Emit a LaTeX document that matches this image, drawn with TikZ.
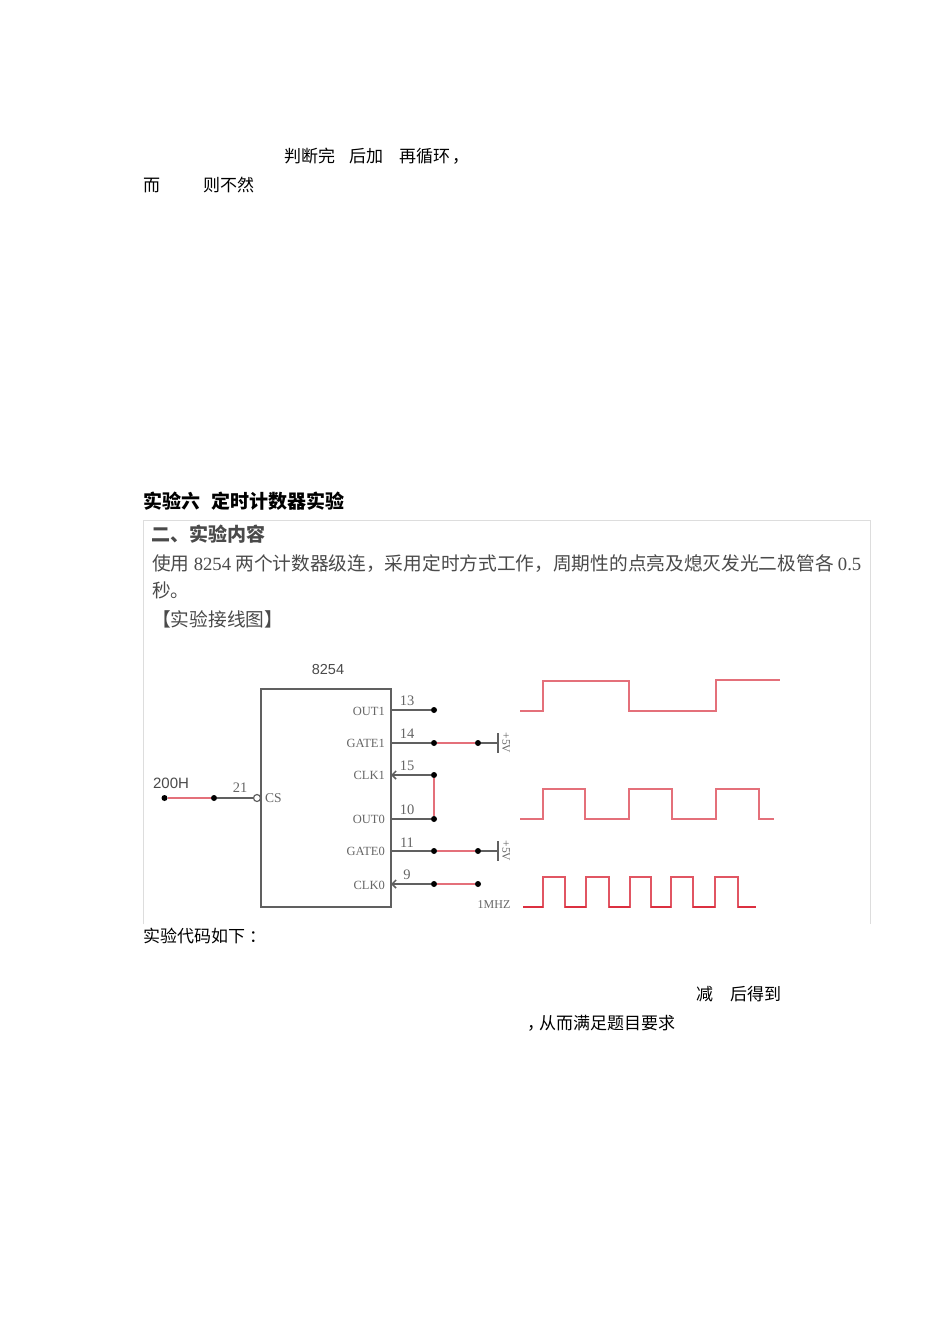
\documentclass[tikz,border=0pt]{standalone}
\usepackage{fontspec}
\setmainfont{Noto Sans CJK SC}
\newfontfamily\ser{Liberation Serif}
\newfontfamily\san{Liberation Sans}
\usetikzlibrary{arrows.meta}
\definecolor{wirec}{HTML}{606060}
\definecolor{redw}{HTML}{E4707A}
\definecolor{redd}{HTML}{DC3040}
\definecolor{inkc}{HTML}{4A4A4A}
\definecolor{framec}{HTML}{DDDDDD}
\definecolor{labc}{HTML}{666666}
\newcommand{\fs}[1]{\fontsize{#1}{#1}\selectfont}
\tikzset{
  txt/.style={inner sep=0pt,anchor=west,text=black,font=\fs{17}},
  head/.style={inner sep=0pt,anchor=west,text=black,font=\fs{19}\bfseries},
  inset/.style={inner sep=0pt,anchor=west,text=inkc,font=\fs{18.7}},
  wire/.style={draw=wirec,line width=1.5pt},
  redwire/.style={draw=redw,line width=1.5pt},
  wave/.style={draw=redw,line width=1.3pt},
  dotn/.style={circle,fill=black,inner sep=0pt,minimum size=6pt},
  pinname/.style={inner sep=0pt,anchor=east,text=labc,font=\ser\fs{12.5}},
  pinnum/.style={inner sep=0pt,text=labc,font=\ser\fs{14.5}},
  clk/.style={-{Straight Barb[length=4pt,width=8pt]}},
  chip/.style={draw=wirec,line width=2pt,minimum width=130pt,minimum height=218pt,inner sep=0pt},
}
\begin{document}
\begin{tikzpicture}[x=1pt,y=-1pt]
\useasboundingbox (0,0) rectangle (950,1344);
\fill[white] (0,0) rectangle (950,1344);
% page text
\node[txt] (t1) at (284,156) {判断完};
\node[txt] (t2) at (349,156) {后加};
\node[txt] (t3) at (399,156) {再循环\hspace{2pt}，};
\node[txt] (t4) at (143,185) {而};
\node[txt] (t5) at (203,185) {则不然};
\node[head] (h1) at (143,501) {实验六};
\node[head] (h2) at (211,501) {定时计数器实验};
\node[txt] (t6) at (143,936) {实验代码如下\hspace{4pt}：};
\node[txt] (t7) at (696,994) {减};
\node[txt] (t8) at (730,994) {后得到};
\node[txt] (t9) at (527,1023) {，\hspace{-5pt}从而满足题目要求};
% screenshot frame
\draw[framec,line width=0.8pt] (143.5,924) -- (143.5,520.5) -- (870.5,520.5) -- (870.5,924);
\node[inset,font=\fs{19}\bfseries] (s1) at (151,534) {二、实验内容};
\node[inset] (s2) at (152,564) {使用 {\ser 8254} 两个计数器级连，采用定时方式工作，周期性的点亮及熄灭发光二极管各 {\ser 0.5}};
\node[inset] (s3) at (152,590) {秒。};
\node[inset] (s4) at (152,619) {【实验接线图】};
% chip
\node[chip] (u) at (326,797.5) {};
\node[inner sep=0pt,text=inkc,font=\san\fs{14.5}] (name) at (328,669) {8254};
% pin points on chip edge
\coordinate (p13) at (391,710);
\coordinate (p14) at (391,743);
\coordinate (p15) at (391,775);
\coordinate (p10) at (391,819);
\coordinate (p11) at (391,851);
\coordinate (p9) at (391,884);
% dots
\node[dotn] (d13) at (434,710) {};
\node[dotn] (d14) at (434,743) {};
\node[dotn] (e14) at (478,743) {};
\node[dotn] (d15) at (434,775) {};
\node[dotn] (d10) at (434,819) {};
\node[dotn] (d11) at (434,851) {};
\node[dotn] (e11) at (478,851) {};
\node[dotn] (d9) at (434,884) {};
\node[dotn] (e9) at (478,884) {};
\node[dotn] (a0) at (164.5,798) {};
\node[dotn] (a1) at (214,798) {};
\node[circle,draw=wirec,fill=white,line width=1.2pt,inner sep=0pt,minimum size=7pt] (inv) at (257,798) {};
% supply bars
\coordinate (b1) at (498,743);
\coordinate (b1t) at (498,733);
\coordinate (b1b) at (498,753);
\coordinate (b2) at (498,851);
\coordinate (b2t) at (498,841);
\coordinate (b2b) at (498,861);
% connectors
\draw[wire] (p13) -- (d13);
\draw[wire] (p14) -- (d14);
\draw[redwire] (d14) -- (e14);
\draw[wire] (e14) -- (b1);
\draw[wire] (b1t) -- (b1b);
\draw[wire,clk] (d15) -- (p15);
\draw[wire] (p10) -- (d10);
\draw[redwire] (d15) -- (d10);
\draw[wire] (p11) -- (d11);
\draw[redwire] (d11) -- (e11);
\draw[wire] (e11) -- (b2);
\draw[wire] (b2t) -- (b2b);
\draw[wire,clk] (d9) -- (p9);
\draw[redwire] (d9) -- (e9);
\draw[redwire] (a0) -- (a1);
\draw[wire] (a1) -- (inv);
% pin names
\node[pinname] (n13) at (385,711) {OUT1};
\node[pinname] (n14) at (385,743) {GATE1};
\node[pinname] (n15) at (385,775) {CLK1};
\node[pinname] (n10) at (385,819) {OUT0};
\node[pinname] (n11) at (385,851) {GATE0};
\node[pinname] (n9) at (385,885) {CLK0};
\node[pinname,anchor=west,font=\ser\fs{13.5}] (ncs) at (265,798) {CS};
% pin numbers
\node[pinnum] (m13) at (407,701) {13};
\node[pinnum] (m14) at (407,734) {14};
\node[pinnum] (m15) at (407,766) {15};
\node[pinnum] (m10) at (407,810) {10};
\node[pinnum] (m11) at (407,843) {11};
\node[pinnum] (m9) at (407,875) {9};
\node[pinnum] (m21) at (240,788) {21};
\node[inner sep=0pt,text=inkc,font=\san\fs{15}] (l200) at (171,783) {200H};
\node[pinname,anchor=center,font=\ser\fs{12}] (l1m) at (494,905) {1MHZ};
\node[pinname,anchor=center,rotate=-90,font=\ser\fs{11.5}] (v1) at (506,743) {+5V};
\node[pinname,anchor=center,rotate=-90,font=\ser\fs{11.5}] (v2) at (506,851) {+5V};
% waveforms
\draw[wave] (520,711) -- (543,711) -- (543,681) -- (629,681) -- (629,711) -- (716,711) -- (716,680) -- (780,680);
\draw[redw,line width=2pt] (543,681) -- (629,681) (716,680) -- (780,680);
\draw[wave] (520,819) -- (543,819) -- (543,789) -- (585,789) -- (585,819) -- (629,819) -- (629,789) -- (672,789) -- (672,819) -- (716,819) -- (716,789) -- (759,789) -- (759,819) -- (774,819);
\draw[wave,draw=redw!60!redd] (523,907) -- (543,907) -- (543,877) -- (565,877) -- (565,907) -- (586,907) -- (586,877) -- (609,877) -- (609,907) -- (630,907) -- (630,877) -- (651,877) -- (651,907) -- (671,907) -- (671,877) -- (693,877) -- (693,907) -- (715,907) -- (715,877) -- (738,877) -- (738,907) -- (756,907);
\draw[redd,line width=1.6pt] (523,907) -- (543,907) (565,907) -- (586,907) (609,907) -- (630,907) (651,907) -- (671,907) (693,907) -- (715,907) (738,907) -- (756,907);
\end{tikzpicture}
\end{document}
